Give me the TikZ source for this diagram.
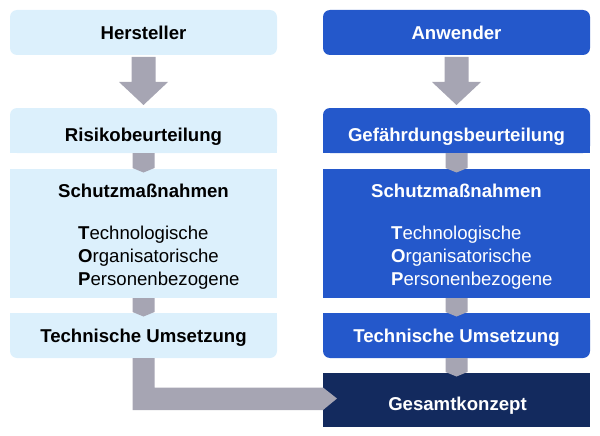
\documentclass[tikz,border=0pt]{standalone}
\usepackage{fontspec}
\setmainfont{Liberation Sans}
\usetikzlibrary{calc}
\pgfdeclarelayer{bg}
\pgfdeclarelayer{conn}
\pgfsetlayers{bg,conn,main}
\definecolor{lightbox}{RGB}{220,240,252}
\definecolor{bluebox}{RGB}{36,88,203}
\definecolor{navybox}{RGB}{19,42,94}
\definecolor{arrowgray}{RGB}{166,165,179}
\begin{document}
\begin{tikzpicture}[x=1pt,y=-1pt,
  box/.style={minimum width=267pt, minimum height=45pt, inner sep=0pt, outer sep=0pt},
  head/.style={font=\fontsize{18.6}{22}\selectfont\bfseries, anchor=base, inner sep=0pt},
  item/.style={font=\fontsize{18.6}{22}\selectfont, anchor=base west, inner sep=0pt},
  conn/.style={fill=arrowgray}]
\useasboundingbox (0,0) rectangle (600,436);
% box frames
\node[box] (h) at (143.5,32.5) {};
\node[box] (r) at (143.5,130.5) {};
\node[box, minimum height=129pt] (s) at (143.5,233.5) {};
\node[box] (t) at (143.5,335.5) {};
\node[box] (a) at (456.5,32.5) {};
\node[box] (g) at (456.5,130.5) {};
\node[box, minimum height=129pt] (s2) at (456.5,233.5) {};
\node[box] (t2) at (456.5,335.5) {};
\node[box, minimum height=54pt] (k) at (456.5,400) {};
% backgrounds
\begin{pgfonlayer}{bg}
\fill[lightbox, rounded corners=7pt] (h.north west) rectangle (h.south east);
\fill[lightbox, rounded corners=7pt] (r.north west) rectangle (r.south east);
\fill[lightbox] (r.west) rectangle (r.south east);
\fill[lightbox] (s.north west) rectangle (s.south east);
\fill[lightbox, rounded corners=7pt] (t.north west) rectangle (t.south east);
\fill[lightbox] (t.north west) rectangle (t.east);
\fill[bluebox, rounded corners=7pt] (a.north west) rectangle (a.south east);
\fill[bluebox, rounded corners=7pt] (g.north west) rectangle (g.south east);
\fill[bluebox] (g.west) rectangle (g.south east);
\fill[bluebox] (s2.north west) rectangle (s2.south east);
\fill[bluebox, rounded corners=7pt] (t2.north west) rectangle (t2.south east);
\fill[bluebox] (t2.north west) rectangle (t2.east);
\fill[navybox] (k.north west) rectangle (k.south east);
\end{pgfonlayer}
% connectors
\begin{pgfonlayer}{conn}
\foreach \u/\v in {h/r, a/g} {
  \fill[conn] ($(\u.south)+(-12,2)$) -- ($(\u.south)+(12,2)$) -- ($(\u.south)+(12,27)$)
    -- ($(\u.south)+(24.5,27)$) -- ($(\v.north)+(0,-3)$) -- ($(\u.south)+(-24.5,27)$)
    -- ($(\u.south)+(-12,27)$) -- cycle;
}
\foreach \u/\v in {r/s, s/t, g/s2, s2/t2, t2/k} {
  \fill[conn] ($(\u.south)+(-11,0)$) -- ($(\u.south)+(11,0)$) -- ($(\v.north)+(11,-1)$)
    -- ($(\v.north)+(0,3.5)$) -- ($(\v.north)+(-11,-1)$) -- cycle;
}
\fill[conn] ($(t.south)+(-11,0)$) -- ($(t.south)+(11,0)$) |- ($(k.west)+(0,-12.5)$)
  -- ($(k.west)+(14,-1.5)$) -- ($(k.west)+(0,10)$) -| ($(t.south)+(-11,0)$) -- cycle;
\end{pgfonlayer}
% texts
\node[head] (hl) at (143.5,40) {Hersteller};
\node[head] (rl) at (143.5,141) {Risikobeurteilung};
\node[head] (sl) at (143.5,197) {Schutzmaßnahmen};
\node[item] (l1) at (78,239) {\textbf{T}echnologische};
\node[item] (l2) at (78,262) {\textbf{O}rganisatorische};
\node[item] (l3) at (78,285) {\textbf{P}ersonenbezogene};
\node[head] (tl) at (143.5,342) {Technische Umsetzung};
\begin{scope}[text=white]
\node[head] (al) at (456.5,40) {Anwender};
\node[head] (gl) at (456.5,141) {Gefährdungsbeurteilung};
\node[head] (sl2) at (456.5,197) {Schutzmaßnahmen};
\node[item] (r1) at (391,239) {\textbf{T}echnologische};
\node[item] (r2) at (391,262) {\textbf{O}rganisatorische};
\node[item] (r3) at (391,285) {\textbf{P}ersonenbezogene};
\node[head] (tl2) at (456.5,342) {Technische Umsetzung};
\node[head] (kl) at (457.5,410) {Gesamtkonzept};
\end{scope}
\end{tikzpicture}
\end{document}
